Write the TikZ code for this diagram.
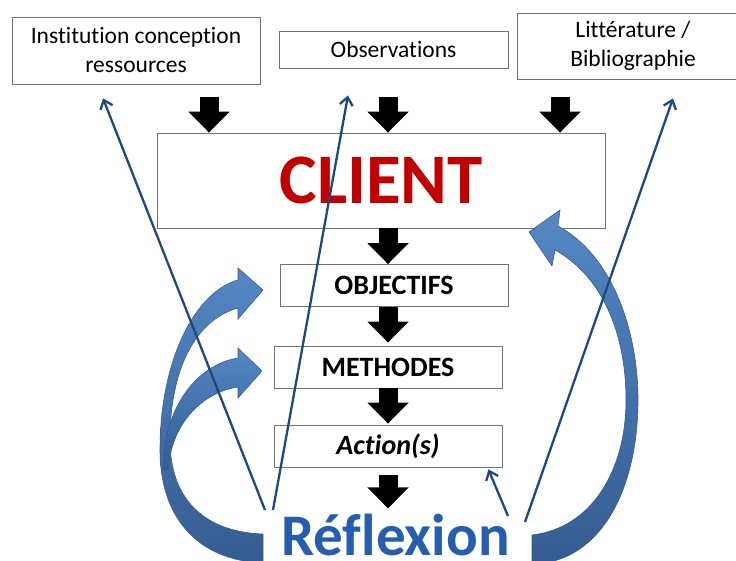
\documentclass[tikz,border=0pt]{standalone}
\usepackage{fontspec}
\setmainfont{Carlito}[Ligatures=NoCommon]
\usetikzlibrary{arrows.meta}
\definecolor{clientred}{RGB}{192,0,0}
\definecolor{reflblue}{RGB}{38,94,175}
\definecolor{linkblue}{RGB}{31,73,125}
\definecolor{swirl}{RGB}{84,135,196}
\definecolor{swirldark}{RGB}{52,92,145}

\begin{document}
\begin{tikzpicture}[x=1pt,y=-1pt,
  box/.style={
    draw=black!55,
    line width=0.8pt,
    inner sep=0pt,
    align=center,
    font=\fontsize{23.5}{29}\selectfont
  },
  stage/.style={
    box,
    minimum width=228pt,
    minimum height=42pt,
    font=\fontsize{28}{32}\selectfont\bfseries
  },
  flow/.style={
    line width=19pt,
    -{Triangle[length=21pt,width=40pt]}
  },
  feedback/.style={
    draw=linkblue,
    line width=2.3pt,
    -{Straight Barb[length=8pt,width=13pt]}
  },
  swirl arrow/.style={
    top color=swirl,
    bottom color=swirldark,
    draw=swirldark,
    line width=0.6pt
  }
]
\useasboundingbox (0,0) rectangle (736,561);

% sources
\node[box,minimum width=248pt,minimum height=67pt] (inst) at (136,50.5)
  {Institution conception\\ressources};
\node[box,minimum width=229pt,minimum height=37pt] (obs) at (393.5,49.5)
  {Observations};
\node[box,minimum width=232pt,minimum height=66pt] (lit) at (633,46)
  {Littérature /\\Bibliographie};

% chain
\node[box,minimum width=448pt,minimum height=95pt,
  font=\fontsize{71}{72}\selectfont\bfseries,text=clientred] (client) at (381,180.5) {CLIENT};
\node[stage] (obj) at (394,285.5) {OBJECTIFS};
\node[stage] (met) at (388,367) {METHODES};
\node[stage] (act) at (388,446) {\itshape Action(s)};
\node[anchor=base,inner sep=0pt,font=\fontsize{59}{60}\selectfont\bfseries,
  text=reflblue] (refl) at (395.5,555.5) {Réflexion};

% big curved arrows
\path[swirl arrow] (263,563) .. controls (195,560) and (160,515) .. (160,450)
  .. controls (160,360) and (195,292) .. (238,280)
  -- (238,268) -- (263,290) -- (238,319) -- (238,308)
  .. controls (195,320) and (170,370) .. (170,440)
  .. controls (170,500) and (205,532) .. (263,534) -- cycle;
\path[swirl arrow] (163,470) .. controls (163,410) and (195,365) .. (238,358)
  -- (238,348) -- (262,371) -- (238,398) -- (238,387)
  .. controls (205,392) and (172,420) .. (168,470) -- cycle;
\path[swirl arrow] (532,535) .. controls (592,528) and (626,470) .. (626,400)
  .. controls (626,330) and (600,275) .. (555,250)
  -- (552,266) -- (529,232) -- (560,210) -- (558,226)
  .. controls (612,255) and (638,330) .. (638,400)
  .. controls (638,490) and (600,563) .. (532,564) -- cycle;

% black flow
\foreach \dx in {-172,7,179}
  \draw[flow] ([xshift=\dx pt,yshift=36pt]client.north) -- ([xshift=\dx pt]client.north);
\draw[flow] (client.south -| met.north) -- (obj.north -| met.north);
\draw[flow] (obj.south -| met.north) -- ([yshift=3pt]met.north);
\draw[flow] (met.south) -- ([yshift=1pt]act.north);
\draw[flow] ([yshift=-8pt]act.south) -- ([yshift=-41pt]act.south);

% feedback lines
\coordinate (r1) at (265,510);
\coordinate (r2) at (273,510);
\coordinate (r3) at (525,522);
\coordinate (r4) at (508,516);
\draw[feedback] (r1) -- ([xshift=-33pt,yshift=-14pt]inst.south);
\draw[feedback] (r2) -- ([xshift=-45.5pt,yshift=-27pt]obs.south);
\draw[feedback] (r3) -- ([xshift=40pt,yshift=-19pt]lit.south);
\draw[feedback] (r4) -- ([xshift=-14pt,yshift=-2pt]act.south east);
\end{tikzpicture}
\end{document}
